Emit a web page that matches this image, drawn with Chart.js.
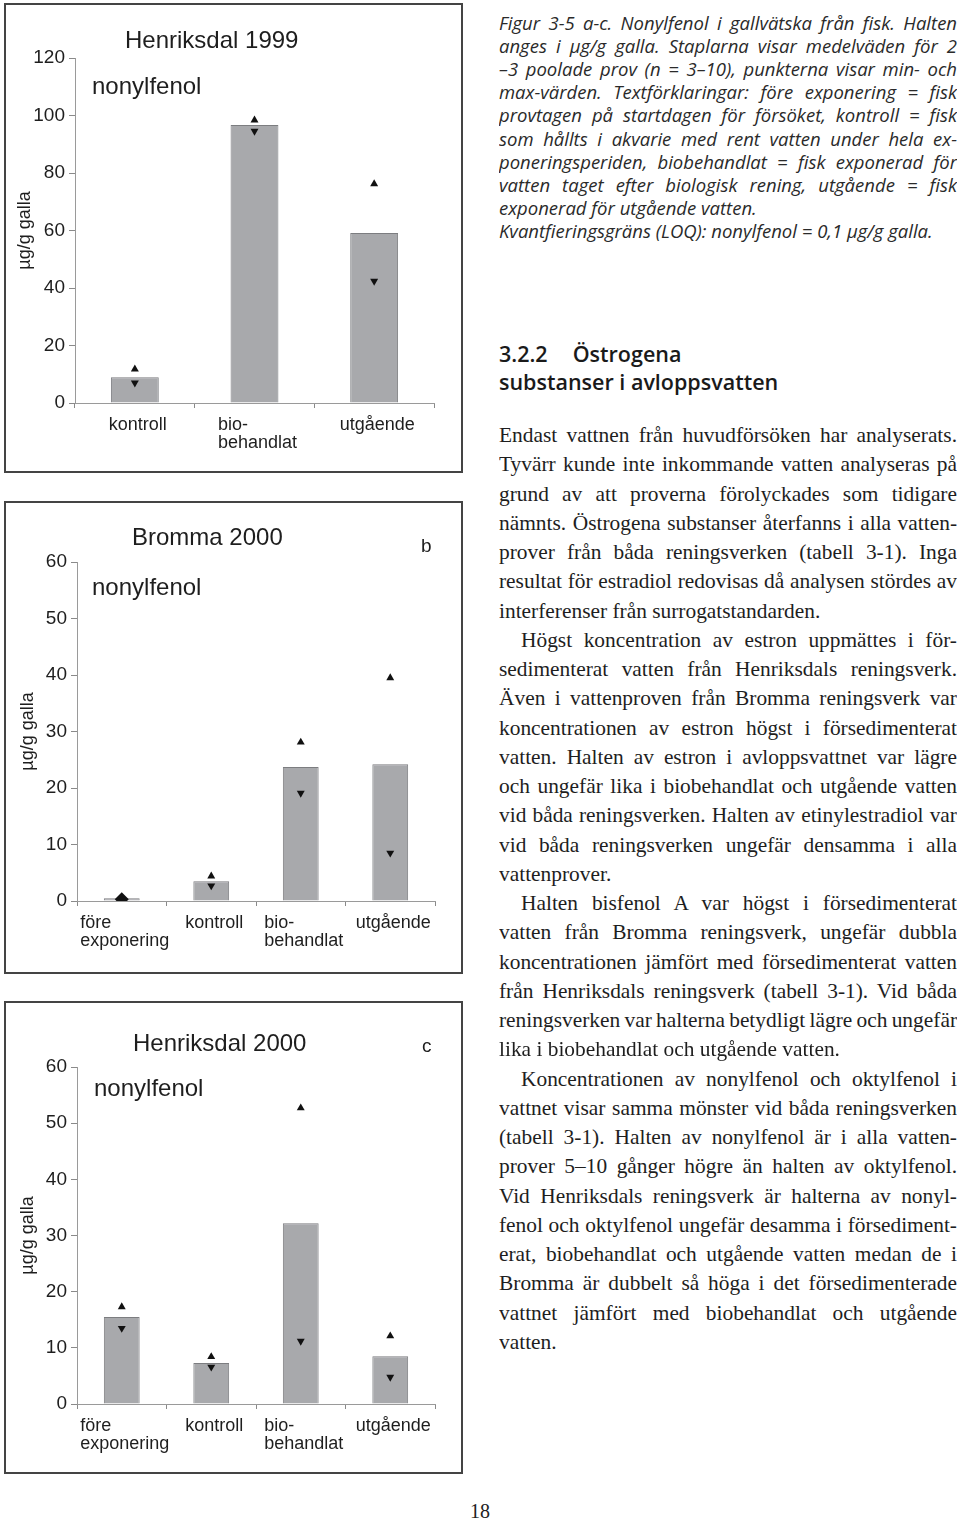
<!DOCTYPE html>
<html lang="sv">
<head>
<meta charset="utf-8">
<title>Nonylfenol i gallvätska</title>
<script src="https://cdn.jsdelivr.net/npm/chart.js@4.4.1/dist/chart.umd.min.js"></script>
<style>
  html, body { margin: 0; padding: 0; background: #fff; }
  body { position: relative; width: 960px; height: 1521px; overflow: hidden; color: #1e1e1e; }
  .panel { position: absolute; left: 4px; width: 459px; border: 2px solid #444; box-sizing: border-box; }
  .panel canvas { position: absolute; left: 0; top: 0; }
  .lbl { position: absolute; font-family: "Liberation Sans", Arial, sans-serif; line-height: 1; white-space: nowrap; color: #1e1e1e; }
  .big { font-size: 24px; }
  .small { font-size: 19px; }
  .col { position: absolute; left: 499px; width: 458px; }
  .col div { text-align: justify; text-align-last: justify; white-space: normal; }
  .col div.last { text-align-last: left; }
  .caption { top: 11.3px; font-family: "Open Sans", Lato, sans-serif; font-style: italic; font-size: 18.5px; line-height: 23.05px; color: #2a2a2a; }
  .caption div { height: 23.05px; overflow: hidden; }
  .heading { top: 339.6px; font-family: "Open Sans", Lato, sans-serif; font-weight: 600; font-size: 21.5px; line-height: 28px; color: #1a1a1a; }
  .body { top: 421.1px; font-family: "Liberation Serif", "Times New Roman", serif; font-size: 21.4px; line-height: 29.26px; word-spacing: -2px; color: #1e1e1e; }
  .body div { height: 29.26px; overflow: hidden; }
  .body div.last { word-spacing: 0; }
  .body div.ind { padding-left: 22px; }
  .pageno { position: absolute; left: 0; width: 960px; text-align: center; top: 1500px; font-family: "Liberation Serif", serif; font-size: 20px; color: #222; }
</style>
</head>
<body>

<!-- a: Henriksdal 1999 -->
<div class="panel" style="top:3px;height:470px;"><canvas id="chartA" width="455" height="466"></canvas></div>
<div class="lbl big" style="left:125px;top:27.7px;">Henriksdal 1999</div>
<div class="lbl big" style="left:92px;top:73.7px;">nonylfenol</div>

<!-- b: Bromma 2000 -->
<div class="panel" style="top:501px;height:473px;"><canvas id="chartB" width="455" height="469"></canvas></div>
<div class="lbl big" style="left:132px;top:525.4px;">Bromma 2000</div>
<div class="lbl small" style="left:421px;top:535.6px;">b</div>
<div class="lbl big" style="left:92px;top:574.7px;">nonylfenol</div>

<!-- c: Henriksdal 2000 -->
<div class="panel" style="top:1001px;height:473px;"><canvas id="chartC" width="455" height="469"></canvas></div>
<div class="lbl big" style="left:133px;top:1031.4px;">Henriksdal 2000</div>
<div class="lbl small" style="left:422px;top:1035.6px;">c</div>
<div class="lbl big" style="left:94px;top:1075.7px;">nonylfenol</div>

<div class="col caption">
  <div>Figur 3-5 a-c. Nonylfenol i gallvätska från fisk. Halten</div>
  <div>anges i µg/g galla. Staplarna visar medelväden för 2</div>
  <div>–3 poolade prov (n = 3–10), punkterna visar min- och</div>
  <div>max-värden. Textförklaringar: före exponering = fisk</div>
  <div>provtagen på startdagen för försöket, kontroll = fisk</div>
  <div>som hållts i akvarie med rent vatten under hela ex-</div>
  <div>poneringsperiden, biobehandlat = fisk exponerad för</div>
  <div>vatten taget efter biologisk rening, utgående = fisk</div>
  <div class="last">exponerad för utgående vatten.</div>
  <div class="last">Kvantfieringsgräns (LOQ): nonylfenol = 0,1 µg/g galla.</div>
</div>

<div class="col heading">
  <div class="last">3.2.2<span style="display:inline-block;width:25px;"></span>Östrogena</div>
  <div class="last">substanser i avloppsvatten</div>
</div>

<div class="col body">
  <div>Endast vattnen från huvudförsöken har analyserats.</div>
  <div>Tyvärr kunde inte inkommande vatten analyseras på</div>
  <div>grund av att proverna förolyckades som tidigare</div>
  <div>nämnts. Östrogena substanser återfanns i alla vatten-</div>
  <div>prover från båda reningsverken (tabell 3-1). Inga</div>
  <div>resultat för estradiol redovisas då analysen stördes av</div>
  <div class="last">interferenser från surrogatstandarden.</div>
  <div class="ind">Högst koncentration av estron uppmättes i för-</div>
  <div>sedimenterat vatten från Henriksdals reningsverk.</div>
  <div>Även i vattenproven från Bromma reningsverk var</div>
  <div>koncentrationen av estron högst i försedimenterat</div>
  <div>vatten. Halten av estron i avloppsvattnet var lägre</div>
  <div>och ungefär lika i biobehandlat och utgående vatten</div>
  <div>vid båda reningsverken. Halten av etinylestradiol var</div>
  <div>vid båda reningsverken ungefär densamma i alla</div>
  <div class="last">vattenprover.</div>
  <div class="ind">Halten bisfenol A var högst i försedimenterat</div>
  <div>vatten från Bromma reningsverk, ungefär dubbla</div>
  <div>koncentrationen jämfört med försedimenterat vatten</div>
  <div>från Henriksdals reningsverk (tabell 3-1). Vid båda</div>
  <div>reningsverken var halterna betydligt lägre och ungefär</div>
  <div class="last">lika i biobehandlat och utgående vatten.</div>
  <div class="ind">Koncentrationen av nonylfenol och oktylfenol i</div>
  <div>vattnet visar samma mönster vid båda reningsverken</div>
  <div>(tabell 3-1). Halten av nonylfenol är i alla vatten-</div>
  <div>prover 5–10 gånger högre än halten av oktylfenol.</div>
  <div>Vid Henriksdals reningsverk är halterna av nonyl-</div>
  <div>fenol och oktylfenol ungefär desamma i försediment-</div>
  <div>erat, biobehandlat och utgående vatten medan de i</div>
  <div>Bromma är dubbelt så höga i det försedimenterade</div>
  <div>vattnet jämfört med biobehandlat och utgående</div>
  <div class="last">vatten.</div>
</div>

<div class="pageno">18</div>

<script>
// categories (multi-line labels)
const cats1999 = [['kontroll'], ['bio-', 'behandlat'], ['utgående']];
const cats2000 = [['före', 'exponering'], ['kontroll'], ['bio-', 'behandlat'], ['utgående']];

// Henriksdal 1999 (µg/g galla)
const hd1999Mean = [9.0, 96.7, 59.1];
const hd1999Max = [11.8, 98.4, 76.2];
const hd1999Min = [7.0, 94.6, 42.4];

// Bromma 2000
const br2000Mean = [0.5, 3.5, 23.7, 24.2];
const br2000Max = [0.3, 4.4, 28.1, 39.5];
const br2000Min = [0.3, 2.7, 19.1, 8.5];

// Henriksdal 2000
const hd2000Mean = [15.5, 7.3, 32.2, 8.5];
const hd2000Max = [17.3, 8.4, 52.7, 12.1];
const hd2000Min = [13.5, 6.6, 11.2, 4.8];

// y axis ticks
const ticks1999 = [0, 20, 40, 60, 80, 100, 120];
const ticks2000 = [0, 10, 20, 30, 40, 50, 60];

const sans = '"Liberation Sans", Arial, sans-serif';

// category labels: lines left-aligned, block centred on the category
const catLabels = {
    id: 'catLabels',
    afterDraw(chart) {
        const ctx = chart.ctx;
        const xs = chart.scales.x;
        ctx.save();
        ctx.font = '18px ' + sans;
        ctx.fillStyle = '#1e1e1e';
        ctx.textBaseline = 'alphabetic';
        chart.data.labels.forEach(function(lines, i) {
            const w = Math.max.apply(null, lines.map(l => ctx.measureText(l).width));
            const x0 = xs.getPixelForTick(i) - w / 2 + 3;
            lines.forEach(function(l, j) {
                ctx.fillText(l, x0, xs.top + 27 + j * 18);
            });
        });
        ctx.restore();
    }
};

function makeChart(id, labels, mean, max, min, yTicks, box) {
    const same = i => max[i] === min[i];
    return new Chart(document.getElementById(id), {
        type: 'bar',
        data: {
            labels: labels,
            datasets: [
                {
                    type: 'line',
                    data: max,
                    showLine: false,
                    pointStyle: c => same(c.dataIndex) ? 'rectRot' : 'triangle',
                    pointRadius: c => same(c.dataIndex) ? 7 : 4.6,
                    pointBackgroundColor: '#111',
                    pointBorderWidth: 0,
                    order: 1
                },
                {
                    type: 'line',
                    data: min,
                    showLine: false,
                    pointStyle: 'triangle',
                    pointRotation: 180,
                    pointRadius: c => same(c.dataIndex) ? 0 : 4.6,
                    pointBackgroundColor: '#111',
                    pointBorderWidth: 0,
                    order: 1
                },
                {
                    data: mean,
                    backgroundColor: '#a8a9ac',
                    borderColor: '#7c7d80',
                    borderWidth: 1,
                    barPercentage: 0.4,
                    categoryPercentage: 1,
                    order: 2
                }
            ]
        },
        options: {
            responsive: false,
            animation: false,
            layout: { autoPadding: false, padding: { left: 0, top: box.top, right: box.right, bottom: 0 } },
            plugins: { legend: { display: false }, tooltip: { enabled: false } },
            scales: {
                x: {
                    grid: { offset: true, drawOnChartArea: false, tickLength: 5, color: '#8a8a8a' },
                    border: { color: '#9a9a9a' },
                    ticks: { display: false },
                    afterFit: s => { s.height = box.xh; }
                },
                y: {
                    min: yTicks[0],
                    max: yTicks[yTicks.length - 1],
                    afterBuildTicks: s => { s.ticks = yTicks.map(v => ({ value: v })); },
                    ticks: { font: { family: sans, size: 19 }, color: '#1e1e1e', padding: 4 },
                    grid: { drawOnChartArea: false, tickLength: 6, color: '#8a8a8a' },
                    border: { color: '#9a9a9a' },
                    title: {
                        display: true,
                        text: 'µg/g galla',
                        font: { family: sans, size: 18 },
                        color: '#1e1e1e',
                        padding: { top: box.tp, bottom: 0 }
                    },
                    afterFit: s => { s.width = box.yw; }
                }
            }
        },
        plugins: [catLabels]
    });
}

makeChart('chartA', cats1999, hd1999Mean, hd1999Max, hd1999Min, ticks1999,
    { top: 53, right: 27, xh: 68, yw: 69, tp: 8 });
makeChart('chartB', cats2000, br2000Mean, br2000Max, br2000Min, ticks2000,
    { top: 59, right: 26, xh: 71, yw: 71, tp: 11 });
makeChart('chartC', cats2000, hd2000Mean, hd2000Max, hd2000Min, ticks2000,
    { top: 64, right: 26, xh: 68, yw: 71, tp: 11 });
</script>
</body>
</html>
